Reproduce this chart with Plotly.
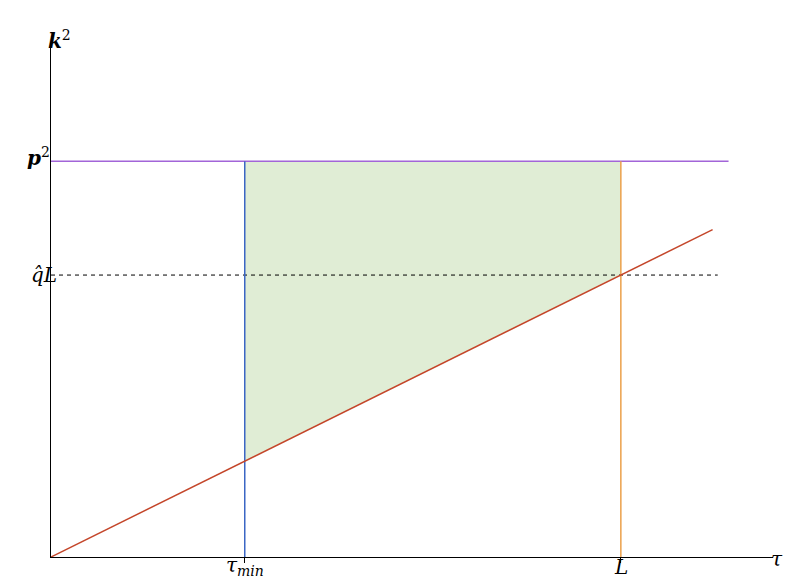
import plotly.graph_objects as go

tau_min = 0.34
L = 1.0
q = 1.0
p2 = 1.404
tau_end_red = 1.161
tau_end_purple = 1.189
tau_end_dash = 1.17
x_max = 1.267
y_max = 1.823

fig = go.Figure()
fig.add_trace(go.Scatter(x=[tau_min, L, L, tau_min, tau_min],
                         y=[q*tau_min, q*L, p2, p2, q*tau_min],
                         fill="toself", fillcolor="#e0edd5", line=dict(width=0),
                         mode="lines", hoverinfo="skip"))
fig.add_trace(go.Scatter(x=[0, tau_end_purple], y=[p2, p2], mode="lines",
                         line=dict(color="#a265d8", width=1.5)))
fig.add_trace(go.Scatter(x=[0, tau_end_dash], y=[q*L, q*L], mode="lines",
                         line=dict(color="black", width=1, dash="4px,4px")))
fig.add_trace(go.Scatter(x=[tau_min, tau_min], y=[0, p2], mode="lines",
                         line=dict(color="#3b66c4", width=1.5)))
fig.add_trace(go.Scatter(x=[L, L], y=[0, p2], mode="lines",
                         line=dict(color="#eba04a", width=1.5)))
fig.add_trace(go.Scatter(x=[0, tau_end_red], y=[0, q*tau_end_red], mode="lines",
                         line=dict(color="#c4462a", width=1.5)))

fig.update_layout(
    width=797, height=584, showlegend=False,
    plot_bgcolor="white", paper_bgcolor="white",
    margin=dict(l=43, r=32, t=35, b=35, autoexpand=False),
    xaxis=dict(range=[0, x_max], showgrid=False, zeroline=False, showline=True,
               linecolor="black", linewidth=1, tickvals=[tau_min, L], ticktext=["", ""],
               ticks="outside", ticklen=5, tickcolor="black"),
    yaxis=dict(range=[0, y_max], showgrid=False, zeroline=False, showline=True,
               linecolor="black", linewidth=1, showticklabels=False, ticks=""),
    font=dict(family="DejaVu Serif", size=20, color="black"),
)
fig.add_annotation(text="<b><i>k</i></b><sup>2</sup>", x=0.0, y=1.0, xref="paper", yref="paper",
                   xshift=-5, yshift=18, showarrow=False)
fig.add_annotation(text="<i>τ</i>", x=1.0, y=0, xref="paper", yref="paper",
                   xshift=12, yshift=-16, showarrow=False)
fig.add_annotation(text="<b><i>p</i></b><sup>2</sup>", x=0, y=p2, xref="paper", yref="y",
                   xshift=-26, yshift=4, showarrow=False)
fig.add_annotation(text="<i>q̂L</i>", x=0, y=q*L, xref="paper", yref="y",
                   xshift=-22, showarrow=False)
fig.add_annotation(text="<i>τ<sub>min</sub></i>", x=tau_min, y=0, xref="x", yref="paper",
                   yshift=-24, showarrow=False)
fig.add_annotation(text="<i>L</i>", x=L, y=0, xref="x", yref="paper",
                   yshift=-24, showarrow=False)
fig.write_html("out.html")
